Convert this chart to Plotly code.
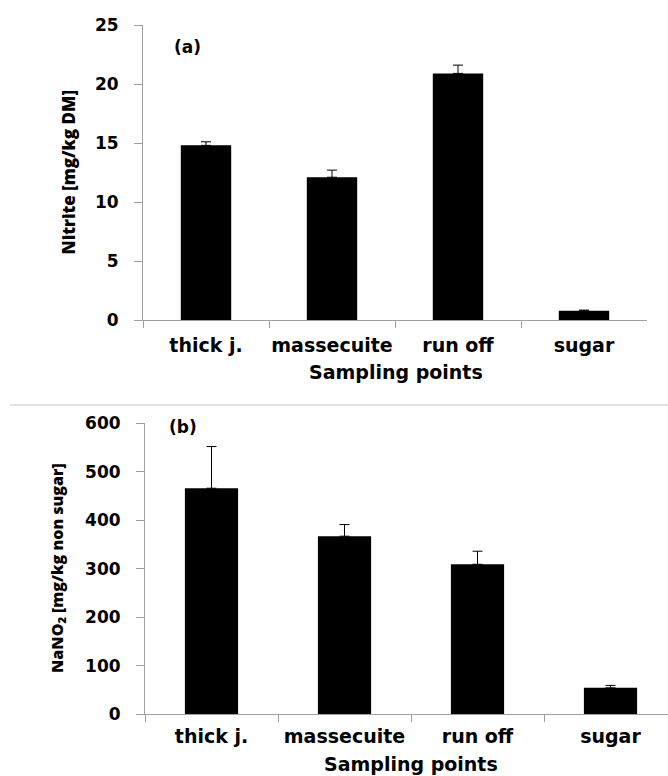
import plotly.graph_objects as go

categories = ["thick j.", "massecuite", "run off", "sugar"]
nitrite = [14.8, 12.1, 20.9, 0.78]
nitrite_err = [0.3, 0.6, 0.7, 0.06]
nano2 = [466, 367, 309, 54]
nano2_err = [86, 24, 27, 5]
yticks_a = [0, 5, 10, 15, 20, 25]
yticks_b = [0, 100, 200, 300, 400, 500, 600]

W, H = 668, 776
GRAY = "#A0A0A0"
TICKFONT = dict(family="DejaVu Sans", size=17, color="#000000", weight="bold")
CATFONT = dict(family="DejaVu Sans", size=19, color="#000000", weight="bold")
TITLEFONT = dict(family="DejaVu Sans", size=19, color="#000000", weight="bold")

def px_x(p):
    return p / W

def px_y(p):
    return 1 - p / H

fig = go.Figure()
fig.add_trace(go.Bar(
    x=categories, y=nitrite, xaxis="x", yaxis="y",
    marker=dict(color="#000000", line=dict(color="#000000", width=0)),
    error_y=dict(type="data", array=nitrite_err, arrayminus=[0] * 4,
                 symmetric=False, color="#000000", thickness=1, width=5),
    showlegend=False,
))
fig.add_trace(go.Bar(
    x=categories, y=nano2, xaxis="x2", yaxis="y2",
    marker=dict(color="#000000", line=dict(color="#000000", width=0)),
    error_y=dict(type="data", array=nano2_err, arrayminus=[0] * 4,
                 symmetric=False, color="#000000", thickness=1, width=5),
    showlegend=False,
))

xa = dict(type="category", showline=True, linecolor=GRAY, linewidth=1,
          ticks="outside", tickson="boundaries", ticklen=7, tickcolor=GRAY,
          tickfont=CATFONT, tickangle=0, showgrid=False, zeroline=False,
          automargin=False)
ya = dict(showline=True, linecolor=GRAY, linewidth=1, ticks="outside",
          ticklen=8, tickcolor=GRAY, tickfont=TICKFONT, showgrid=False,
          zeroline=False, ticklabelstandoff=12, automargin=False)

fig.update_layout(
    width=W, height=H, margin=dict(l=0, r=0, t=0, b=0, autoexpand=False),
    paper_bgcolor="white", plot_bgcolor="white", bargap=0.6,
    xaxis=dict(xa, domain=[px_x(143), px_x(647)], anchor="y", range=[-0.5, 3.5],
               ticklabelstandoff=8),
    yaxis=dict(ya, domain=[px_y(320), px_y(25)], anchor="x", range=[0, 25],
               tickvals=yticks_a),
    xaxis2=dict(xa, domain=[px_x(145), 1], anchor="y2",
                range=[-0.5, -0.5 + (668 - 145) / 133.0], ticklabelstandoff=5),
    yaxis2=dict(ya, domain=[px_y(714), px_y(423.3)], anchor="x2", range=[0, 600],
                tickvals=yticks_b),
    shapes=[dict(type="line", xref="paper", yref="paper", x0=px_x(10), x1=1,
                 y0=px_y(405), y1=px_y(405), line=dict(color="#D9D9D9", width=1.5))],
    annotations=[
        dict(text="(a)", xref="paper", yref="paper", x=px_x(187), y=px_y(47),
             xanchor="center", yanchor="middle", showarrow=False,
             font=dict(family="DejaVu Sans", size=17, weight="bold", color="#000")),
        dict(text="(b)", xref="paper", yref="paper", x=px_x(183), y=px_y(427),
             xanchor="center", yanchor="middle", showarrow=False,
             font=dict(family="DejaVu Sans", size=17, weight="bold", color="#000")),
        dict(text="Nitrite [mg/kg DM]", xref="paper", yref="paper", x=px_x(68),
             y=px_y(172.5), xanchor="center", yanchor="middle", textangle=-90,
             showarrow=False,
             font=dict(family="Open Sans", size=17, weight=800, color="#000")),
        dict(text="NaNO<sub>2</sub> [mg/kg non sugar]", xref="paper", yref="paper",
             x=px_x(57), y=px_y(568), xanchor="center", yanchor="middle",
             textangle=-90, showarrow=False,
             font=dict(family="Open Sans", size=16, weight=800, color="#000")),
        dict(text="Sampling points", xref="paper", yref="paper", x=px_x(395.5),
             y=px_y(372), xanchor="center", yanchor="middle", showarrow=False,
             font=TITLEFONT),
        dict(text="Sampling points", xref="paper", yref="paper", x=px_x(410.5),
             y=px_y(764), xanchor="center", yanchor="middle", showarrow=False,
             font=TITLEFONT),
    ],
)

fig.write_html("out.html")
